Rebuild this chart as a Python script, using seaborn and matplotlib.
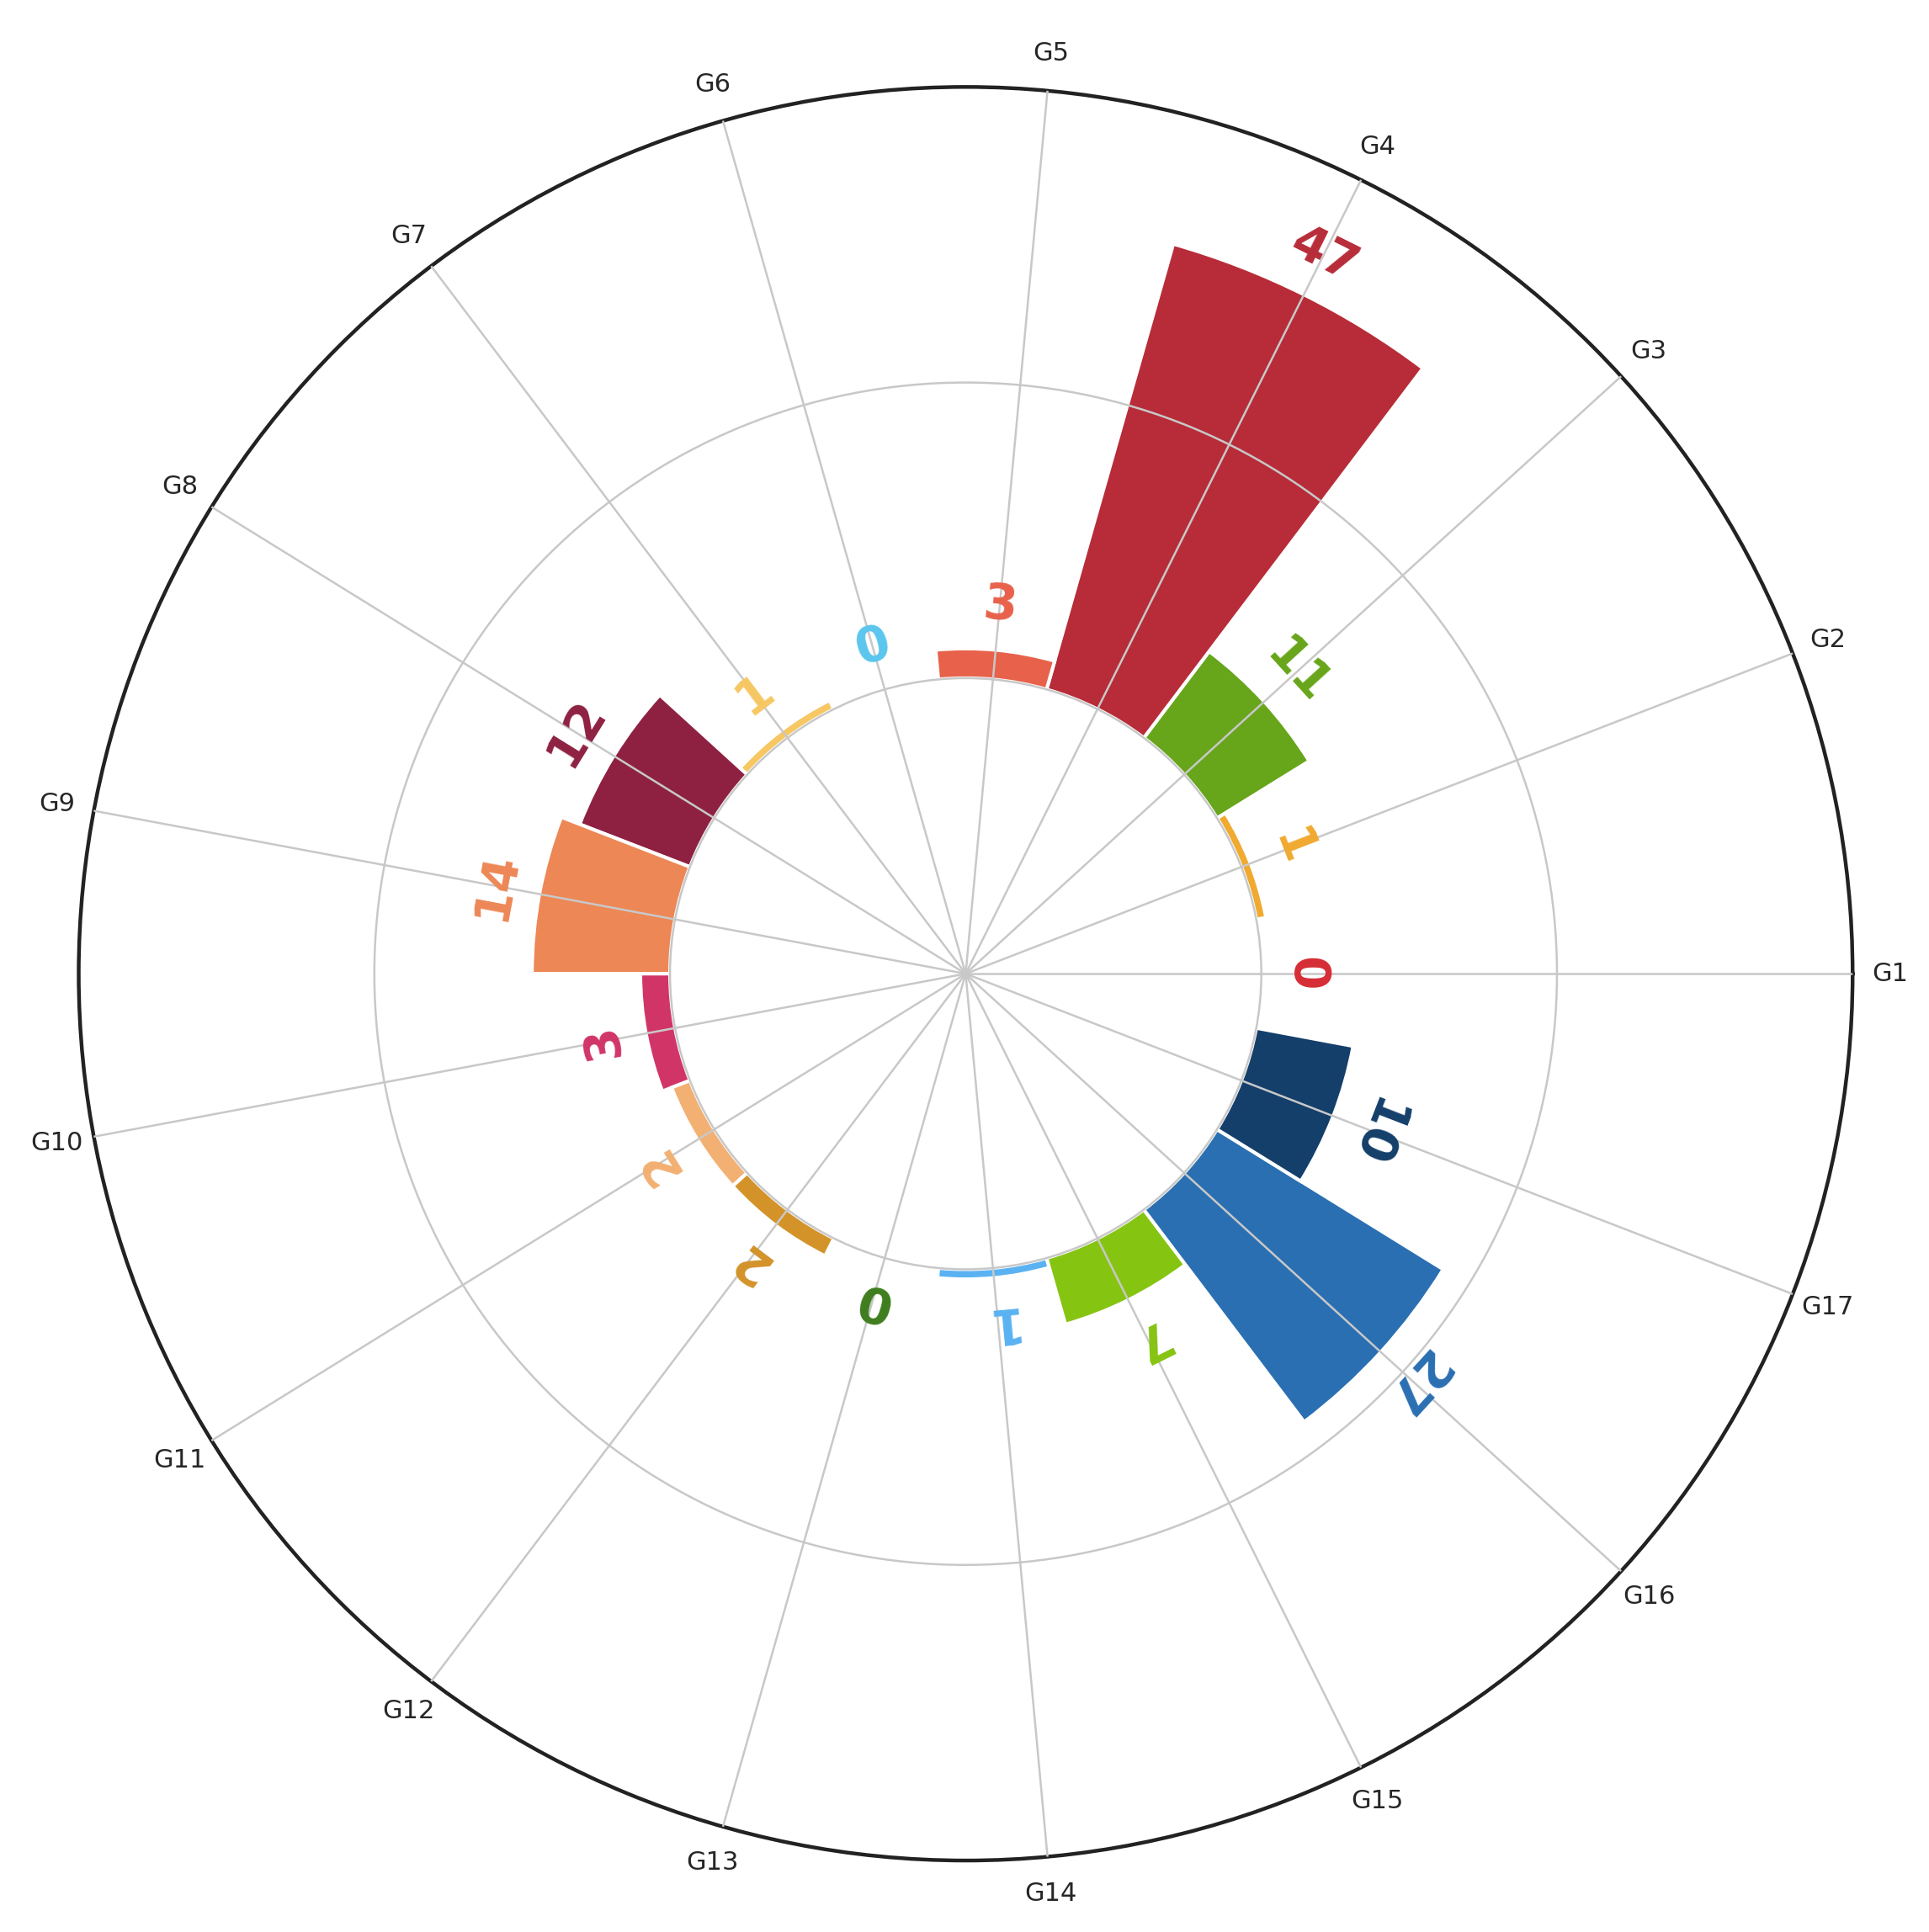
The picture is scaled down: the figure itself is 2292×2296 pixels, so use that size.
import numpy as np
import matplotlib
matplotlib.use("Agg")
import matplotlib.pyplot as plt
import seaborn as sns

groups = [f"G{i}" for i in range(1, 18)]
counts = [0, 1, 11, 47, 3, 0, 1, 12, 14, 3, 2, 2, 0, 1, 7, 27, 10]
colors = [
    "#d62d35", "#f0aa30", "#67a51a", "#b72c38", "#e8614a", "#5bc6ee",
    "#f6c763", "#8e2142", "#ed8756", "#d13568", "#f2b072", "#d39329",
    "#3e7d1e", "#5ab2f2", "#86c412", "#2a6fb2", "#143f6a",
]

BASE = 30
sns.set_theme(style="white")

n = len(groups)
theta = np.arange(n) * 2 * np.pi / n
width = 2 * np.pi / n

fig = plt.figure(figsize=(11.46, 11.48), dpi=200)
ax = fig.add_axes([0.0406, 0.037, 0.92, 0.918], projection="polar")

ax.bar(theta, counts, width=width, bottom=BASE, color=colors,
       edgecolor="white", linewidth=1.5, zorder=2)

# value labels just past the bar tips, turned with the angle
for t, v, c in zip(theta, counts, colors):
    ax.text(t, BASE + v + 4.5, str(v), color=c, fontsize=21, fontweight="bold",
            rotation=np.degrees(t) - 90, rotation_mode="anchor",
            ha="center", va="center", zorder=4)

ax.set_ylim(0, 90)
ax.set_xticks(theta)
ax.set_xticklabels(groups, fontsize=11)
ax.set_yticks([30, 60])
ax.set_yticklabels([])
ax.tick_params(axis="x", pad=3)
ax.grid(True, color="#c8c8c8", linewidth=0.9)
ax.set_axisbelow(False)
for gl in ax.get_xgridlines() + ax.get_ygridlines():
    gl.set_zorder(3)
ax.spines["polar"].set_color("#222222")
ax.spines["polar"].set_linewidth(1.6)

fig.savefig("out.png", dpi=200, facecolor="white")
